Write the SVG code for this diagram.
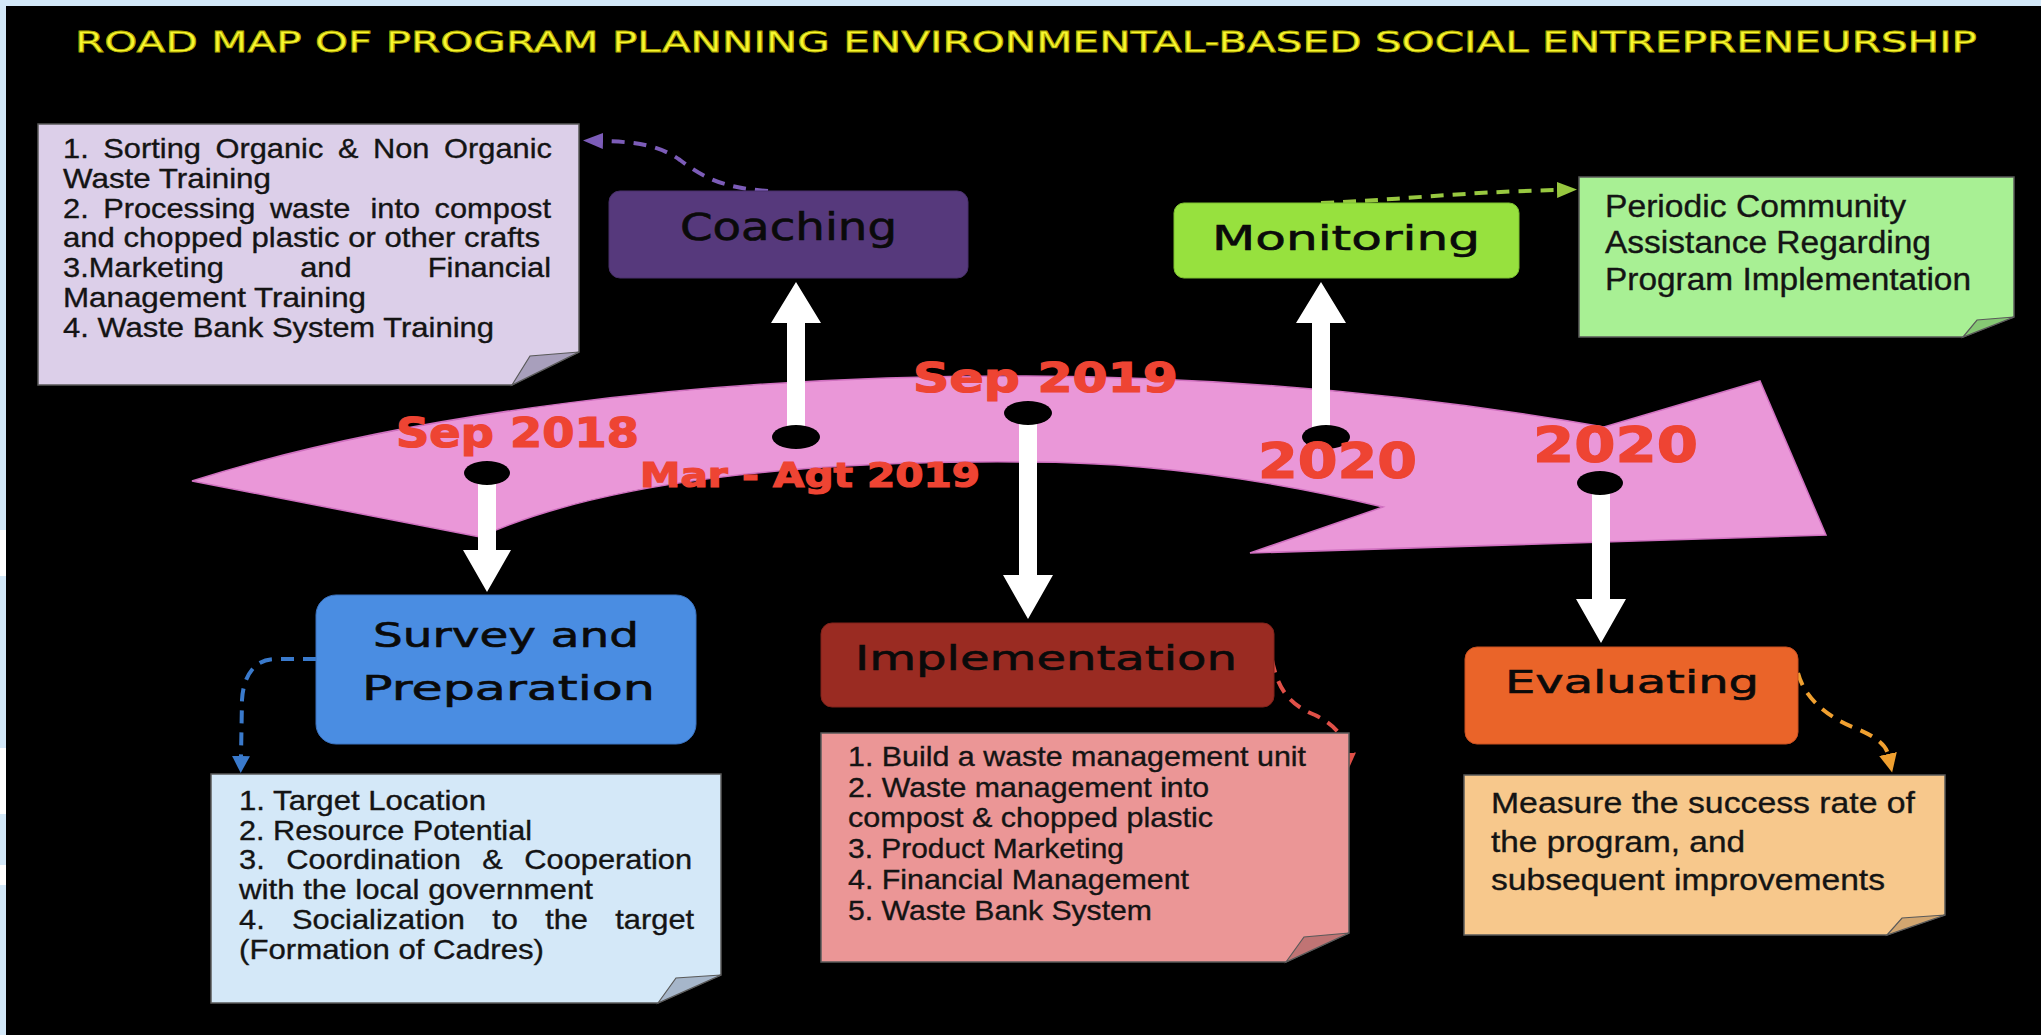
<svg xmlns="http://www.w3.org/2000/svg" width="2041" height="1035" viewBox="0 0 2041 1035">
<style>
.body{font-family:"Liberation Sans",Arial,sans-serif;fill:#141414;stroke:#141414;stroke-width:0.35}
.lbl{font-family:"DejaVu Sans",Verdana,sans-serif;fill:#0a0a0a;stroke:#0a0a0a;stroke-width:0.6}
.date{font-family:"DejaVu Sans",Verdana,sans-serif;font-weight:bold;fill:#ee4433;stroke:#ee4433;stroke-width:1.2}
.note{stroke:#5a5a5a;stroke-width:1.5}
.flap{stroke:#5a5a5a;stroke-width:1.2}
.dash{fill:none;stroke-width:4;stroke-dasharray:13 9}
.white{fill:#ffffff}
.dot{fill:#000000}
</style>
<defs>
<marker id="mPurple" markerUnits="userSpaceOnUse" markerWidth="22" markerHeight="18" refX="0" refY="8" orient="auto"><path d="M0,0 L20,8 L0,16 z" fill="#7c5cb8"/></marker>
<marker id="mGreen" markerUnits="userSpaceOnUse" markerWidth="22" markerHeight="18" refX="0" refY="8" orient="auto"><path d="M0,0 L20,8 L0,16 z" fill="#98c840"/></marker>
<marker id="mBlue" markerUnits="userSpaceOnUse" markerWidth="22" markerHeight="20" refX="0" refY="9" orient="auto"><path d="M0,0 L17,9 L0,18 z" fill="#3a7acc"/></marker>
<marker id="mRed" markerUnits="userSpaceOnUse" markerWidth="22" markerHeight="20" refX="0" refY="9" orient="auto"><path d="M0,0 L17,9 L0,18 z" fill="#e05048"/></marker>
<marker id="mOrange" markerUnits="userSpaceOnUse" markerWidth="22" markerHeight="20" refX="0" refY="9" orient="auto"><path d="M0,0 L19,9 L0,18 z" fill="#f0a030"/></marker>
</defs>

<rect x="0" y="0" width="2041" height="1035" fill="#d3e8f8"/>
<rect x="0" y="530" width="6" height="46" fill="#ffffff"/>
<rect x="0" y="748" width="6" height="66" fill="#ffffff"/>
<rect x="0" y="865" width="6" height="20" fill="#ffffff"/>
<rect x="6" y="6" width="2035" height="1029" fill="#000000"/>

<text id="title" x="75" y="52" font-family="DejaVu Sans, Verdana, sans-serif" font-size="28" fill="#f8f830" stroke="#b0a800" stroke-width="0.8" textLength="1902" lengthAdjust="spacingAndGlyphs">ROAD MAP OF PROGRAM PLANNING ENVIRONMENTAL-BASED SOCIAL ENTREPRENEURSHIP</text>

<g id="timeline">
<path d="M192,481 C400,415 700,375 1026,376 C1250,377 1450,400 1604,427 L1760,381 L1826,535 L1250,553 L1383,507 C1270,480 1150,462 1026,462 C800,460 600,482 480,537 Z" fill="#ea97d8" stroke="#d070c0" stroke-width="1.5"/>
</g>

<g id="connectors">
<path class="white" d="M478,473 L496,473 L496,550 L511,550 L487,592 L463,550 L478,550 Z"/>
<path class="white" d="M787,437 L805,437 L805,323 L821,323 L796,282 L771,323 L787,323 Z"/>
<path class="white" d="M1019,413 L1037,413 L1037,575 L1053,575 L1028,619 L1003,575 L1019,575 Z"/>
<path class="white" d="M1312,437 L1330,437 L1330,323 L1346,323 L1321,282 L1296,323 L1312,323 Z"/>
<path class="white" d="M1592,483 L1610,483 L1610,599 L1626,599 L1601,643 L1576,599 L1592,599 Z"/>
<path class="dash" stroke="#7c5cb8" marker-end="url(#mPurple)" d="M768,191 C720,188 700,175 680,160 C660,146 640,142 603,141"/>
<path class="dash" stroke="#98c840" marker-end="url(#mGreen)" d="M1321,203 C1400,200 1460,192 1557,190"/>
<path class="dash" stroke="#3a7acc" marker-end="url(#mBlue)" d="M316,659 L275,659 C252,659 243,680 242,700 L241,756"/>
<path class="dash" stroke="#e05048" marker-end="url(#mRed)" d="M1272,660 C1278,690 1290,705 1315,715 C1335,725 1346,738 1347,753"/>
<path class="dash" stroke="#f0a030" marker-end="url(#mOrange)" d="M1798,673 C1805,700 1830,718 1855,728 C1875,736 1886,745 1888,754"/>
</g>

<g id="markers">
<ellipse class="dot" cx="487" cy="473" rx="23" ry="12"/>
<ellipse class="dot" cx="796" cy="437" rx="24" ry="12"/>
<ellipse class="dot" cx="1028" cy="413" rx="24" ry="12"/>
<ellipse class="dot" cx="1326" cy="437" rx="24" ry="12"/>
<ellipse class="dot" cx="1600" cy="483" rx="23" ry="12"/>
</g>

<g id="dates">
<text class="date" x="396" y="447" font-size="41" textLength="243" lengthAdjust="spacingAndGlyphs">Sep 2018</text>
<text class="date" x="640" y="487" font-size="34" textLength="340" lengthAdjust="spacingAndGlyphs">Mar - Agt 2019</text>
<text class="date" x="913" y="392" font-size="40" textLength="265" lengthAdjust="spacingAndGlyphs">Sep 2019</text>
<text class="date" x="1258" y="478" font-size="49" textLength="159" lengthAdjust="spacingAndGlyphs">2020</text>
<text class="date" x="1533" y="462" font-size="50" textLength="165" lengthAdjust="spacingAndGlyphs">2020</text>
</g>

<g id="coaching">
<rect x="609" y="191" width="359" height="87" rx="11" fill="#56397c" stroke="#48306a" stroke-width="1"/>
<text class="lbl" x="680" y="240" font-size="37" textLength="217" lengthAdjust="spacingAndGlyphs">Coaching</text>
</g>

<g id="coaching-note">
<path class="note" d="M38,124 L579,124 L579,352 L512,385 L38,385 Z" fill="#dccfe9"/>
<path class="flap" d="M512,385 L530,356 L579,352 Z" fill="#a89fbc"/>
<text class="body" font-size="28" y="158"><tspan x="63" textLength="25.7" lengthAdjust="spacingAndGlyphs">1.</tspan><tspan x="103.3" textLength="97.6" lengthAdjust="spacingAndGlyphs">Sorting</tspan><tspan x="215.5" textLength="107.8" lengthAdjust="spacingAndGlyphs">Organic</tspan><tspan x="337.9" textLength="20.5" lengthAdjust="spacingAndGlyphs">&amp;</tspan><tspan x="373" textLength="56.5" lengthAdjust="spacingAndGlyphs">Non</tspan><tspan x="444.1" textLength="107.8" lengthAdjust="spacingAndGlyphs">Organic</tspan></text>
<text class="body" font-size="28" x="63" y="188" textLength="208" lengthAdjust="spacingAndGlyphs">Waste Training</text>
<text class="body" font-size="28" y="218"><tspan x="63" textLength="25.7" lengthAdjust="spacingAndGlyphs">2.</tspan><tspan x="103.2" textLength="152.3" lengthAdjust="spacingAndGlyphs">Processing</tspan><tspan x="269.9" textLength="80.4" lengthAdjust="spacingAndGlyphs">waste</tspan><tspan x="370.5" textLength="49.6" lengthAdjust="spacingAndGlyphs">into</tspan><tspan x="434.6" textLength="116.4" lengthAdjust="spacingAndGlyphs">compost</tspan></text>
<text class="body" font-size="28" x="63" y="247" textLength="477" lengthAdjust="spacingAndGlyphs">and chopped plastic or other crafts</text>
<text class="body" font-size="28" y="277"><tspan x="63" textLength="160.9" lengthAdjust="spacingAndGlyphs">3.Marketing</tspan><tspan x="300.2" textLength="51.4" lengthAdjust="spacingAndGlyphs">and</tspan><tspan x="427.8" textLength="123.2" lengthAdjust="spacingAndGlyphs">Financial</tspan></text>
<text class="body" font-size="28" x="63" y="307" textLength="303" lengthAdjust="spacingAndGlyphs">Management Training</text>
<text class="body" font-size="28" x="63" y="337" textLength="431" lengthAdjust="spacingAndGlyphs">4. Waste Bank System Training</text>
</g>

<g id="monitoring">
<rect x="1174" y="203" width="345" height="75" rx="10" fill="#97e13e" stroke="#7cc030" stroke-width="1"/>
<text class="lbl" x="1212" y="250" font-size="34" textLength="268" lengthAdjust="spacingAndGlyphs">Monitoring</text>
</g>

<g id="monitoring-note">
<path class="note" d="M1579,177 L2014,177 L2014,317 L1963,337 L1579,337 Z" fill="#a8f094"/>
<path class="flap" d="M1963,337 L1977,320 L2014,317 Z" fill="#86c874"/>
<text class="body" font-size="31" x="1605" y="217" textLength="301" lengthAdjust="spacingAndGlyphs">Periodic Community</text>
<text class="body" font-size="31" x="1605" y="253" textLength="326" lengthAdjust="spacingAndGlyphs">Assistance Regarding</text>
<text class="body" font-size="31" x="1605" y="290" textLength="366" lengthAdjust="spacingAndGlyphs">Program Implementation</text>
</g>

<g id="survey">
<rect x="316" y="595" width="380" height="149" rx="20" fill="#4a8de2" stroke="#3a72c0" stroke-width="1"/>
<text class="lbl" x="373" y="647" font-size="33" textLength="266" lengthAdjust="spacingAndGlyphs" stroke-width="1">Survey and</text>
<text class="lbl" x="362" y="700" font-size="33" textLength="293" lengthAdjust="spacingAndGlyphs" stroke-width="1">Preparation</text>
</g>

<g id="survey-note">
<path class="note" d="M211,774 L721,774 L721,975 L658,1003 L211,1003 Z" fill="#d4e8f8"/>
<path class="flap" d="M658,1003 L676,978 L721,975 Z" fill="#a6b6ca"/>
<text class="body" font-size="28" x="239" y="810" textLength="247" lengthAdjust="spacingAndGlyphs">1. Target Location</text>
<text class="body" font-size="28" x="239" y="840" textLength="293" lengthAdjust="spacingAndGlyphs">2. Resource Potential</text>
<text class="body" font-size="28" y="869"><tspan x="239" textLength="25.7" lengthAdjust="spacingAndGlyphs">3.</tspan><tspan x="286.2" textLength="174.6" lengthAdjust="spacingAndGlyphs">Coordination</tspan><tspan x="482.3" textLength="20.5" lengthAdjust="spacingAndGlyphs">&amp;</tspan><tspan x="524.3" textLength="167.8" lengthAdjust="spacingAndGlyphs">Cooperation</tspan></text>
<text class="body" font-size="28" x="239" y="899" textLength="354" lengthAdjust="spacingAndGlyphs">with the local government</text>
<text class="body" font-size="28" y="929"><tspan x="239" textLength="25.7" lengthAdjust="spacingAndGlyphs">4.</tspan><tspan x="292" textLength="172.9" lengthAdjust="spacingAndGlyphs">Socialization</tspan><tspan x="492.2" textLength="25.7" lengthAdjust="spacingAndGlyphs">to</tspan><tspan x="545.2" textLength="42.8" lengthAdjust="spacingAndGlyphs">the</tspan><tspan x="615.3" textLength="78.8" lengthAdjust="spacingAndGlyphs">target</tspan></text>
<text class="body" font-size="28" x="239" y="959" textLength="305" lengthAdjust="spacingAndGlyphs">(Formation of Cadres)</text>
</g>

<g id="implementation">
<rect x="821" y="623" width="453" height="84" rx="11" fill="#9a2b22" stroke="#80221a" stroke-width="1"/>
<text class="lbl" x="855" y="670" font-size="34" textLength="382" lengthAdjust="spacingAndGlyphs">Implementation</text>
</g>

<g id="implementation-note">
<path class="note" d="M821,733 L1349,733 L1349,933 L1286,962 L821,962 Z" fill="#eb9696"/>
<path class="flap" d="M1286,962 L1304,937 L1349,933 Z" fill="#c07474"/>
<text class="body" font-size="28" x="848" y="766" textLength="458" lengthAdjust="spacingAndGlyphs">1. Build a waste management unit</text>
<text class="body" font-size="28" x="848" y="797" textLength="361" lengthAdjust="spacingAndGlyphs">2. Waste management into</text>
<text class="body" font-size="28" x="848" y="827" textLength="365" lengthAdjust="spacingAndGlyphs">compost &amp; chopped plastic</text>
<text class="body" font-size="28" x="848" y="858" textLength="276" lengthAdjust="spacingAndGlyphs">3. Product Marketing</text>
<text class="body" font-size="28" x="848" y="889" textLength="341" lengthAdjust="spacingAndGlyphs">4. Financial Management</text>
<text class="body" font-size="28" x="848" y="920" textLength="304" lengthAdjust="spacingAndGlyphs">5. Waste Bank System</text>
</g>

<g id="evaluating">
<rect x="1465" y="647" width="333" height="97" rx="12" fill="#ea6429" stroke="#c85020" stroke-width="1"/>
<text class="lbl" x="1505" y="693" font-size="32" textLength="254" lengthAdjust="spacingAndGlyphs">Evaluating</text>
</g>

<g id="evaluating-note">
<path class="note" d="M1464,775 L1945,775 L1945,915 L1887,935 L1464,935 Z" fill="#f7c88c"/>
<path class="flap" d="M1887,935 L1902,918 L1945,915 Z" fill="#d2a670"/>
<text class="body" font-size="30" x="1491" y="813" textLength="424" lengthAdjust="spacingAndGlyphs">Measure the success rate of</text>
<text class="body" font-size="30" x="1491" y="852" textLength="254" lengthAdjust="spacingAndGlyphs">the program, and</text>
<text class="body" font-size="30" x="1491" y="890" textLength="394" lengthAdjust="spacingAndGlyphs">subsequent improvements</text>
</g>
</svg>
